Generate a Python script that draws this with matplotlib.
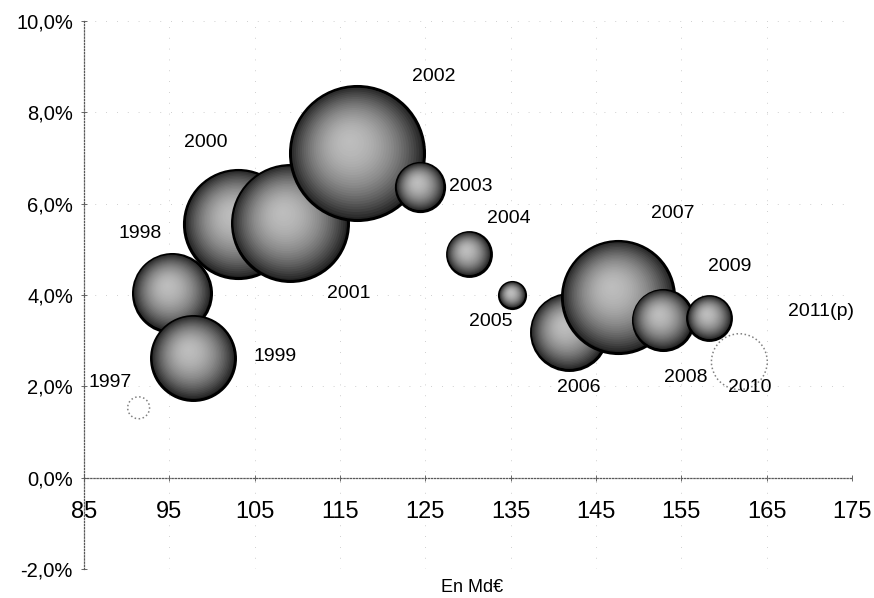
import numpy as np
import matplotlib
matplotlib.use("Agg")
from matplotlib import pyplot as plt
from matplotlib.transforms import ScaledTranslation

# =============================================================================
# Data
# =============================================================================

annees = ["1997", "1998", "1999", "2000", "2001", "2002", "2003", "2004",
          "2005", "2006", "2007", "2008", "2009", "2010", "2011(p)"]
montant = [91.4, 95.3, 97.8, 103.1, 109.1, 117.0, 124.4, 130.1,
           135.2, 141.8, 147.6, 152.8, 158.3, 161.8, 167.2]      # En Md€
taux = [1.53, 4.05, 2.63, 5.56, 5.58, 7.11, 6.37, 4.90,
        4.00, 3.19, 3.96, 3.46, 3.50, 2.54, 3.09]                # %
# bubble size (negative -> hollow bubble), no bubble for 2011(p)
bulle = [-12, 152, 176, 292, 336, 449, 58, 48,
         17, 144, 314, 90, 48, -78, np.nan]

y_ticks = [-2, 0, 2, 4, 6, 8, 10]
y_labels = ["-2,0%", "0,0%", "2,0%", "4,0%", "6,0%", "8,0%", "10,0%"]
x_ticks = [85, 95, 105, 115, 125, 135, 145, 155, 165, 175]

# label offsets in pixels (dx, dy up)
label_offsets = [(-28, 25), (-32, 59), (82, 1), (-33, 81), (59, -71),
                 (77, 76), (51, 0), (40, 35), (-22, -26), (10, -56),
                 (55, 83), (23, -58), (20, 51), (10, -26), (36, 25)]

# =============================================================================
# Style
# =============================================================================

DPI = 100
R_MAX = 67          # radius in pixels of the largest bubble
N_LAYERS = 30
plt.rcParams['font.family'] = ['Liberation Sans', 'DejaVu Sans']

fig = plt.figure(figsize=(8.74, 5.98), dpi=DPI)
ax = fig.add_axes([84 / 874, 1 - 569 / 598, 768 / 874, 548 / 598])
ax.set_xlim(85, 175)
ax.set_ylim(-2, 10)


def px2pt(px):
    return px * 72.0 / DPI


def draw_bubble(x, y, r_px, hollow, z):
    if hollow:
        ax.scatter([x], [y], s=px2pt(2 * r_px) ** 2, facecolor="white",
                   edgecolor="0.5", linewidths=1.1, linestyles=":",
                   zorder=z)
        return
    hx, hy = -0.12 * r_px, 0.18 * r_px
    for k in range(N_LAYERS):
        f = 1.0 - k / N_LAYERS
        g = 0.74 - 0.6 * f ** 2
        dx = (1 - f) * hx / DPI
        dy = (1 - f) * hy / DPI
        tr = ax.transData + ScaledTranslation(dx, dy, fig.dpi_scale_trans)
        ax.scatter([x], [y], s=px2pt(2 * r_px * f) ** 2, color=str(g),
                   edgecolor="black" if k == 0 else "none",
                   linewidths=2.2 if k == 0 else 0, transform=tr, zorder=z)


big = np.nanmax(np.abs(bulle))
for i, (x, y, b) in enumerate(zip(montant, taux, bulle)):
    if not np.isnan(b):
        r = R_MAX * np.sqrt(abs(b) / big)
        draw_bubble(x, y, r, b < 0, 3 + i)
    ax.annotate(annees[i], (x, y), xytext=label_offsets[i],
                textcoords="offset pixels", ha="center", va="center",
                fontsize=14, color="black", zorder=40)

# =============================================================================
# Axes
# =============================================================================

for side in ["top", "right"]:
    ax.spines[side].set_visible(False)
ax.spines["bottom"].set_position(("data", 0))
for side in ["bottom", "left"]:
    ax.spines[side].set_linestyle((0, (1, 1.5)))
    ax.spines[side].set_color("0.35")
    ax.spines[side].set_linewidth(0.9)

ax.set_xticks(x_ticks)
ax.set_xticklabels([str(t) for t in x_ticks])
ax.set_yticks(y_ticks)
ax.set_yticklabels(y_labels)
ax.tick_params(axis="x", direction="inout", length=5, width=0.7,
               color="0.4", pad=14, labelsize=17)
ax.tick_params(axis="y", direction="inout", length=4, width=0.7,
               color="0.4", pad=6, labelsize=14.5)

ax.grid(True, color="0.75", linestyle=(0, (1, 12)), linewidth=0.6, zorder=0)
ax.set_axisbelow(True)

ax.set_xlabel("En Md€", fontsize=13)
ax.xaxis.set_label_coords(0.505, -0.018)

fig.savefig("out.png", dpi=DPI)
